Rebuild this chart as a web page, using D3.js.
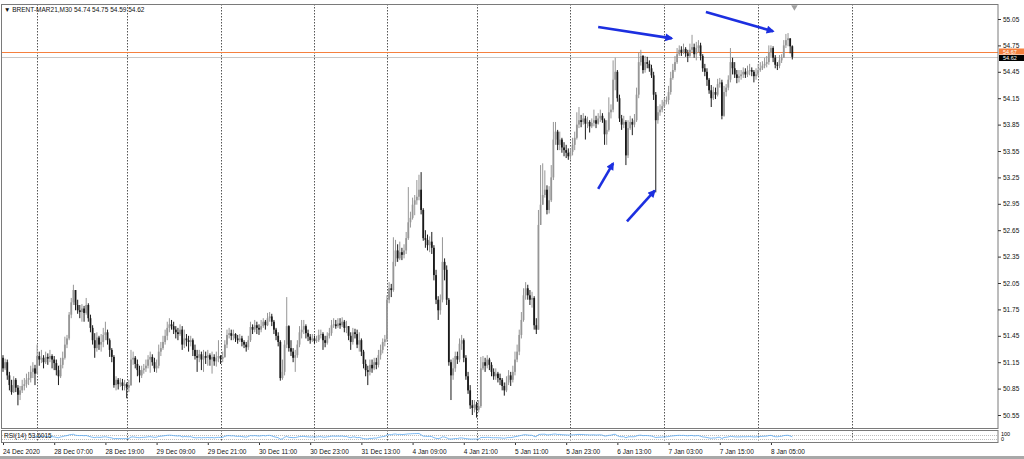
<!DOCTYPE html>
<html lang="en">
<head>
<meta charset="UTF-8">
<title>BRENT-MAR21,M30</title>
<style>
  body { margin: 0; background: #fff; }
  svg { display: block; font-family: "Liberation Sans", Arial, sans-serif; }
  .axis text { font-size: 6.5px; fill: #111; }
  .axis line { stroke: #333; }
  .axis path { display: none; }
  .grid line { stroke: #555; stroke-dasharray: 1.5 1.5; }
</style>
<script src="https://d3js.org/d3.v7.min.js"></script>
</head>
<body>
<script>
// ---- chart values ----
const titleText = "\u25BC BRENT-MAR21,M30  54.74 54.75 54.59 54.62";
const rsiText = "RSI(14) 53.6015";
const firstOpen = 51.20;

const close = [
  51.08, 51.15, 51.00, 50.89, 50.81, 50.95, 50.86, 50.78, 50.83, 50.88,
  50.90, 50.95, 50.97, 51.04, 51.08, 51.02, 51.22, 51.18, 51.20, 51.15,
  51.21, 51.19, 51.22, 51.18, 51.14, 51.06, 50.99, 51.12, 51.20, 51.35,
  51.42, 51.69, 51.83, 51.97, 51.80, 51.74, 51.72, 51.76, 51.71, 51.80,
  51.65, 51.54, 51.40, 51.31, 51.43, 51.35, 51.38, 51.46, 51.49, 51.40,
  51.29, 51.21, 50.89, 50.95, 50.90, 50.92, 50.88, 50.90, 50.86, 50.89,
  51.18, 51.20, 51.13, 51.06, 51.00, 51.06, 51.08, 51.11, 51.18, 51.21,
  51.15, 51.08, 51.11, 51.27, 51.31, 51.38, 51.45, 51.54, 51.58, 51.56,
  51.52, 51.49, 51.47, 51.52, 51.35, 51.42, 51.40, 51.38, 51.40, 51.29,
  51.22, 51.20, 51.24, 51.18, 51.22, 51.20, 51.23, 51.18, 51.21, 51.16,
  51.20, 51.22, 51.19, 51.21, 51.35, 51.46, 51.48, 51.45, 51.47, 51.42,
  51.40, 51.42, 51.38, 51.35, 51.32, 51.40, 51.55, 51.52, 51.57, 51.54,
  51.52, 51.56, 51.61, 51.57, 51.65, 51.67, 51.61, 51.52, 51.45, 51.38,
  50.97, 51.04, 51.35, 51.56, 51.31, 51.27, 51.20, 51.23, 51.35, 51.49,
  51.52, 51.56, 51.48, 51.44, 51.40, 51.42, 51.39, 51.40, 51.46, 51.47,
  51.40, 51.37, 51.45, 51.48, 51.57, 51.58, 51.56, 51.59, 51.57, 51.61,
  51.54, 51.56, 51.45, 51.38, 51.49, 51.47, 51.35, 51.40, 51.27, 51.13,
  51.06, 51.04, 51.12, 51.08, 51.15, 51.12, 51.23, 51.29, 51.38, 51.41,
  51.86, 51.99, 51.97, 52.29, 52.42, 52.33, 52.40, 52.37, 52.42, 52.56,
  52.74, 52.79, 52.94, 52.99, 53.03, 53.11, 52.88, 52.56, 52.54, 52.48,
  52.52, 52.45, 52.14, 51.86, 51.74, 51.86, 52.29, 52.20, 51.86, 51.15,
  51.00, 51.08, 51.22, 51.18, 51.36, 51.40, 51.20, 50.99, 50.83, 50.66,
  50.63, 50.67, 50.61, 50.65, 51.08, 51.15, 51.11, 51.18, 51.12, 51.04,
  50.99, 51.02, 50.97, 50.95, 50.88, 50.83, 50.92, 51.00, 50.95, 51.04,
  51.18, 51.27, 51.46, 51.63, 51.91, 51.99, 51.91, 51.86, 51.88, 51.57,
  51.52, 52.71, 52.94, 53.05, 53.11, 52.88, 52.99, 53.25, 53.68, 53.77,
  53.62, 53.68, 53.59, 53.56, 53.53, 53.49, 53.54, 53.62, 53.70, 53.85,
  53.90, 53.88, 53.92, 53.86, 53.88, 53.83, 53.87, 53.90, 53.86, 53.92,
  53.95, 53.90, 53.74, 53.79, 53.99, 54.02, 54.36, 54.45, 54.15, 53.92,
  53.85, 53.88, 53.50, 53.81, 53.88, 53.85, 53.90, 54.19, 54.56, 54.63,
  54.47, 54.56, 54.54, 54.49, 54.41, 54.19, 53.90, 53.99, 54.02, 54.06,
  54.11, 54.13, 54.22, 54.38, 54.47, 54.56, 54.65, 54.70, 54.67, 54.71,
  54.66, 54.63, 54.70, 54.73, 54.65, 54.72, 54.75, 54.63, 54.49, 54.45,
  54.36, 54.24, 54.15, 54.22, 54.19, 54.31, 54.33, 53.95, 54.22, 54.27,
  54.36, 54.56, 54.49, 54.42, 54.38, 54.40, 54.42, 54.45, 54.42, 54.46,
  54.47, 54.45, 54.40, 54.42, 54.47, 54.49, 54.52, 54.54, 54.56, 54.67,
  54.72, 54.61, 54.53, 54.52, 54.58, 54.61, 54.75, 54.81, 54.83, 54.74,
  54.62
];

const high = [
  51.23, 51.19, 51.18, 51.04, 50.95, 50.99, 50.97, 50.89, 50.88, 50.95,
  50.97, 51.02, 51.04, 51.11, 51.15, 51.12, 51.35, 51.27, 51.29, 51.23,
  51.27, 51.25, 51.29, 51.24, 51.22, 51.18, 51.11, 51.20, 51.27, 51.44,
  51.46, 51.72, 51.88, 52.03, 51.95, 51.86, 51.80, 51.81, 51.79, 51.88,
  51.82, 51.69, 51.57, 51.48, 51.49, 51.45, 51.47, 51.54, 51.61, 51.52,
  51.42, 51.31, 51.23, 50.99, 50.97, 50.97, 50.96, 50.95, 50.92, 50.95,
  51.29, 51.27, 51.22, 51.18, 51.11, 51.11, 51.13, 51.18, 51.23, 51.27,
  51.24, 51.20, 51.18, 51.35, 51.38, 51.45, 51.52, 51.61, 51.65, 51.63,
  51.61, 51.56, 51.54, 51.58, 51.56, 51.52, 51.47, 51.45, 51.45, 51.42,
  51.35, 51.29, 51.29, 51.27, 51.29, 51.27, 51.29, 51.25, 51.27, 51.24,
  51.27, 51.40, 51.23, 51.27, 51.40, 51.52, 51.54, 51.52, 51.52, 51.48,
  51.46, 51.47, 51.45, 51.40, 51.38, 51.45, 51.61, 51.58, 51.63, 51.61,
  51.58, 51.63, 51.65, 51.63, 51.71, 51.72, 51.70, 51.63, 51.54, 51.49,
  51.40, 51.18, 51.40, 51.89, 51.57, 51.40, 51.31, 51.29, 51.40, 51.56,
  51.63, 51.63, 51.58, 51.52, 51.47, 51.47, 51.45, 51.45, 51.52, 51.52,
  51.49, 51.45, 51.49, 51.54, 51.63, 51.65, 51.63, 51.65, 51.65, 51.66,
  51.63, 51.62, 51.56, 51.49, 51.54, 51.53, 51.52, 51.49, 51.42, 51.29,
  51.18, 51.11, 51.18, 51.18, 51.20, 51.20, 51.29, 51.35, 51.42, 51.46,
  51.91, 52.06, 52.04, 52.57, 52.54, 52.49, 52.52, 52.45, 52.49, 52.63,
  53.14, 52.86, 53.02, 53.05, 53.22, 53.28, 53.31, 52.90, 52.65, 52.60,
  52.58, 52.63, 52.48, 52.20, 51.90, 51.92, 52.57, 52.33, 52.25, 51.88,
  51.18, 51.20, 51.27, 51.27, 51.42, 51.46, 51.42, 51.23, 51.04, 50.89,
  50.72, 50.72, 50.70, 50.72, 51.21, 51.22, 51.20, 51.23, 51.20, 51.15,
  51.08, 51.08, 51.04, 51.02, 50.97, 50.92, 50.99, 51.06, 51.04, 51.11,
  51.27, 51.35, 51.52, 51.72, 51.99, 52.06, 52.03, 51.97, 51.95, 51.90,
  51.65, 52.88, 53.39, 53.41, 53.33, 53.16, 53.15, 53.39, 53.88, 53.88,
  53.79, 53.77, 53.70, 53.65, 53.62, 53.58, 53.58, 53.70, 53.77, 53.99,
  54.05, 53.96, 53.98, 53.95, 53.94, 53.90, 53.92, 54.02, 53.95, 53.98,
  54.02, 53.98, 53.92, 53.90, 54.16, 54.08, 54.58, 54.61, 54.47, 54.19,
  53.96, 53.95, 53.90, 53.90, 53.95, 53.92, 53.97, 54.27, 54.67, 54.70,
  54.64, 54.63, 54.62, 54.58, 54.53, 54.45, 54.22, 54.06, 54.08, 54.13,
  54.15, 54.17, 54.29, 54.45, 54.54, 54.63, 54.72, 54.75, 54.74, 54.77,
  54.73, 54.70, 54.77, 54.87, 54.77, 54.79, 54.81, 54.78, 54.65, 54.54,
  54.49, 54.38, 54.30, 54.28, 54.27, 54.37, 54.38, 54.36, 54.29, 54.31,
  54.41, 54.72, 54.61, 54.56, 54.47, 54.47, 54.47, 54.50, 54.49, 54.52,
  54.54, 54.50, 54.47, 54.49, 54.54, 54.56, 54.57, 54.61, 54.63, 54.75,
  54.75, 54.74, 54.64, 54.56, 54.64, 54.65, 54.81, 54.88, 54.89, 54.83,
  54.75
];

const low = [
  51.04, 51.06, 50.95, 50.83, 50.78, 50.80, 50.81, 50.66, 50.72, 50.80,
  50.83, 50.86, 50.89, 50.92, 50.97, 50.89, 51.04, 51.11, 51.14, 51.08,
  51.13, 51.12, 51.15, 51.08, 51.06, 51.00, 50.89, 50.97, 51.08, 51.18,
  51.31, 51.40, 51.65, 51.80, 51.74, 51.70, 51.65, 51.61, 51.61, 51.69,
  51.61, 51.49, 51.35, 51.20, 51.27, 51.29, 51.27, 51.32, 51.40, 51.35,
  51.21, 51.15, 50.86, 50.83, 50.84, 50.87, 50.83, 50.83, 50.74, 50.81,
  50.88, 51.12, 51.08, 50.99, 50.92, 50.97, 51.02, 51.04, 51.08, 51.03,
  51.11, 51.04, 51.03, 51.08, 51.22, 51.29, 51.35, 51.40, 51.49, 51.52,
  51.47, 51.42, 51.40, 51.45, 51.29, 51.31, 51.33, 51.27, 51.33, 51.22,
  51.18, 51.04, 51.15, 51.06, 51.04, 51.13, 51.11, 51.11, 51.02, 51.11,
  51.10, 51.15, 51.13, 51.15, 51.20, 51.31, 51.42, 51.40, 51.40, 51.38,
  51.36, 51.38, 51.33, 51.31, 51.27, 51.29, 51.38, 51.47, 51.49, 51.47,
  51.46, 51.49, 51.54, 51.52, 51.56, 51.61, 51.56, 51.47, 51.40, 51.33,
  50.94, 50.95, 51.00, 51.31, 51.27, 51.22, 51.15, 51.04, 51.20, 51.32,
  51.42, 51.47, 51.42, 51.39, 51.36, 51.38, 51.36, 51.37, 51.38, 51.42,
  51.29, 51.32, 51.35, 51.42, 51.45, 51.54, 51.53, 51.54, 51.53, 51.55,
  51.49, 51.48, 51.40, 51.29, 51.35, 51.42, 51.31, 51.27, 51.22, 51.08,
  50.99, 50.89, 51.00, 51.03, 51.06, 51.07, 51.09, 51.18, 51.25, 51.33,
  51.38, 51.82, 51.89, 51.95, 52.24, 52.29, 52.31, 52.31, 52.33, 52.38,
  52.54, 52.68, 52.77, 52.82, 52.94, 52.99, 52.83, 52.53, 52.45, 52.42,
  52.40, 52.38, 52.08, 51.81, 51.63, 51.69, 51.83, 52.08, 51.80, 51.11,
  50.72, 50.95, 51.04, 51.13, 51.15, 51.29, 51.15, 50.95, 50.79, 50.62,
  50.55, 50.58, 50.52, 50.58, 50.63, 51.06, 51.04, 51.08, 51.06, 50.99,
  50.95, 50.95, 50.92, 50.89, 50.83, 50.77, 50.81, 50.89, 50.88, 50.92,
  51.00, 51.15, 51.23, 51.42, 51.61, 51.86, 51.86, 51.80, 51.77, 51.52,
  51.47, 51.52, 52.74, 52.94, 53.02, 52.83, 52.84, 52.97, 53.22, 53.62,
  53.56, 53.56, 53.53, 53.49, 53.47, 53.45, 53.45, 53.50, 53.56, 53.68,
  53.81, 53.82, 53.85, 53.68, 53.81, 53.76, 53.81, 53.83, 53.81, 53.85,
  53.88, 53.87, 53.62, 53.62, 53.77, 53.92, 53.99, 54.24, 54.11, 53.88,
  53.79, 53.81, 53.39, 53.47, 53.79, 53.73, 53.82, 53.88, 54.15, 54.52,
  54.43, 54.44, 54.49, 54.45, 54.38, 54.13, 53.08, 53.86, 53.95, 53.99,
  54.04, 54.08, 54.08, 54.19, 54.36, 54.45, 54.54, 54.63, 54.63, 54.65,
  54.62, 54.56, 54.61, 54.67, 54.61, 54.58, 54.67, 54.58, 54.45, 54.40,
  54.29, 54.20, 54.05, 54.13, 54.14, 54.17, 54.27, 53.91, 53.94, 54.17,
  54.24, 54.33, 54.42, 54.38, 54.32, 54.33, 54.36, 54.38, 54.38, 54.39,
  54.41, 54.40, 54.33, 54.36, 54.40, 54.45, 54.47, 54.49, 54.50, 54.53,
  54.62, 54.56, 54.49, 54.47, 54.49, 54.55, 54.61, 54.72, 54.74, 54.66,
  54.59
];

// price scale labels (right side)
const priceTicks = [55.05, 54.75, 54.45, 54.15, 53.85, 53.55, 53.25, 52.95,
                    52.65, 52.35, 52.05, 51.75, 51.45, 51.15, 50.85, 50.55];

// time scale labels, one every 24 bars
const timeLabels = ["24 Dec 2020", "28 Dec 07:00", "28 Dec 19:00", "29 Dec 09:00",
                    "29 Dec 21:00", "30 Dec 11:00", "30 Dec 23:00", "31 Dec 13:00",
                    "4 Jan 09:00", "4 Jan 21:00", "5 Jan 11:00", "5 Jan 23:00",
                    "6 Jan 13:00", "7 Jan 03:00", "7 Jan 15:00", "8 Jan 05:00"];
const labelStep = 24;

// bars where the dotted vertical grid lines sit
const gridBars = [16, 58, 102, 146, 180, 222, 266, 310, 354, 398];

const askPrice = 54.67;
const bidPrice = 54.62;

// hand-drawn blue arrows: [bar from, price from, bar to, price to]
const arrows = [
  [279, 54.96, 313.5, 54.83],
  [329.5, 55.13, 361, 54.91],
  [279, 53.12, 286, 53.41],
  [292.5, 52.75, 305.5, 53.10]
];

// ---- drawing ----
function grafico() {
  const W = 1024, H = 459;
  const paneRight = 998, paneTop = 4, paneBottom = 428;
  const rsiTop = 430, rsiBottom = 442;

  const svg = d3.select("body").append("svg")
      .attr("width", W)
      .attr("height", H);

  const x = d3.scaleLinear().domain([0, 370]).range([3, 792.3]);
  const y = d3.scaleLinear().domain([50.55, 55.05]).range([415, 19]);
  const yr = d3.scaleLinear().domain([0, 100]).range([rsiBottom, rsiTop + 2]);

  // clip for main pane
  svg.append("clipPath").attr("id", "clipMain")
    .append("rect").attr("x", 1).attr("y", paneTop).attr("width", paneRight - 1).attr("height", paneBottom - paneTop);

  // vertical dotted grid (main pane + rsi pane)
  const grid = svg.append("g").attr("class", "grid");
  grid.selectAll("line.m").data(gridBars).enter().append("line")
      .attr("x1", d => Math.round(x(d)) + 0.5).attr("x2", d => Math.round(x(d)) + 0.5)
      .attr("y1", paneTop).attr("y2", paneBottom);
  grid.selectAll("line.r").data(gridBars).enter().append("line")
      .attr("x1", d => Math.round(x(d)) + 0.5).attr("x2", d => Math.round(x(d)) + 0.5)
      .attr("y1", rsiTop).attr("y2", rsiBottom);

  // bid / ask lines
  svg.append("line")
      .attr("x1", 1).attr("x2", paneRight)
      .attr("y1", Math.round(y(bidPrice)) + 0.5).attr("y2", Math.round(y(bidPrice)) + 0.5)
      .attr("stroke", "#c8c8c8").attr("stroke-width", 1);
  svg.append("line")
      .attr("x1", 1).attr("x2", paneRight)
      .attr("y1", Math.round(y(askPrice)) + 0.5).attr("y2", Math.round(y(askPrice)) + 0.5)
      .attr("stroke", "#f5803e").attr("stroke-width", 1);

  // candles
  const bars = close.map((c, i) => ({
    i: i,
    o: i ? close[i - 1] : firstOpen,
    h: high[i], l: low[i], c: c
  }));
  const g = svg.append("g").attr("clip-path", "url(#clipMain)");
  const colour = d => d.c >= d.o ? "#969696" : "#1a1a1a";

  g.selectAll("line.wick").data(bars).enter().append("line")
      .attr("class", "wick")
      .attr("x1", d => x(d.i)).attr("x2", d => x(d.i))
      .attr("y1", d => y(Math.max(d.h, d.o, d.c)))
      .attr("y2", d => y(Math.min(d.l, d.o, d.c)))
      .attr("stroke", colour).attr("stroke-width", 1);

  g.selectAll("rect.body").data(bars).enter().append("rect")
      .attr("class", "body")
      .attr("x", d => x(d.i) - 0.9).attr("width", 1.8)
      .attr("y", d => y(Math.max(d.o, d.c)))
      .attr("height", d => Math.max(0.8, Math.abs(y(d.o) - y(d.c))))
      .attr("fill", colour);

  // arrows
  const defs = svg.append("defs");
  defs.append("marker").attr("id", "head")
      .attr("viewBox", "0 0 10 10").attr("refX", 8).attr("refY", 5)
      .attr("markerWidth", 10).attr("markerHeight", 8)
      .attr("markerUnits", "userSpaceOnUse").attr("orient", "auto")
    .append("path").attr("d", "M0,0 L10,5 L0,10 z").attr("fill", "#1c2fe0");
  svg.selectAll("line.arrow").data(arrows).enter().append("line")
      .attr("x1", d => x(d[0])).attr("y1", d => y(d[1]))
      .attr("x2", d => x(d[2])).attr("y2", d => y(d[3]))
      .attr("stroke", "#1c2fe0").attr("stroke-width", 2.6)
      .attr("marker-end", "url(#head)");

  // chart shift marker
  svg.append("path")
      .attr("d", d3.symbol(d3.symbolTriangle, 18)())
      .attr("transform", "translate(" + x(371) + "," + (paneTop + 3) + ") rotate(180)")
      .attr("fill", "#a0a0a0");

  // pane frames
  svg.append("rect").attr("x", 1.5).attr("y", paneTop + 0.5)
      .attr("width", paneRight - 1.5).attr("height", paneBottom - paneTop)
      .attr("fill", "none").attr("stroke", "#7a7a7a");
  svg.append("rect").attr("x", 1.5).attr("y", rsiTop + 0.5)
      .attr("width", paneRight - 1.5).attr("height", rsiBottom - rsiTop)
      .attr("fill", "none").attr("stroke", "#7a7a7a");

  // rsi levels
  svg.selectAll("line.lvl").data([70, 30]).enter().append("line")
      .attr("x1", 2).attr("x2", paneRight)
      .attr("y1", d => Math.round(yr(d)) + 0.5).attr("y2", d => Math.round(yr(d)) + 0.5)
      .attr("stroke", "#bdbdbd").attr("stroke-dasharray", "1 1");

  // rsi(14) computed from the closes
  const rsi = [];
  let ag = 0, al = 0;
  for (let i = 1; i < close.length; i++) {
    const d = close[i] - close[i - 1];
    const up = Math.max(d, 0), dn = Math.max(-d, 0);
    if (i <= 14) { ag += up / 14; al += dn / 14; }
    else { ag = (ag * 13 + up) / 14; al = (al * 13 + dn) / 14; }
    if (i >= 14) rsi.push([i, al === 0 ? 100 : 100 - 100 / (1 + ag / al)]);
  }
  svg.append("path").datum(rsi)
      .attr("d", d3.line().x(d => x(d[0])).y(d => yr(d[1])))
      .attr("fill", "none").attr("stroke", "#5aa8f0").attr("stroke-width", 0.8);

  // price axis
  svg.append("g").attr("class", "axis")
      .attr("transform", "translate(" + paneRight + ",0)")
      .call(d3.axisRight(y).tickValues(priceTicks).tickFormat(d3.format(".2f")).tickSize(3).tickPadding(2));

  // ask / bid boxes (ask box drawn a little lower so it does not hide 54.75)
  [[askPrice, "#f5803e", 48.5], [bidPrice, "#000", 55]].forEach(function (p) {
    svg.append("rect").attr("x", 999).attr("y", p[2]).attr("width", 25).attr("height", 6).attr("fill", p[1]);
    svg.append("text").attr("x", 1003).attr("y", p[2] + 5)
        .attr("font-size", "5.5px").attr("fill", "#fff").text(p[0].toFixed(2));
  });

  // rsi scale labels
  svg.append("text").attr("x", 1001).attr("y", 436).attr("font-size", "5.5px").text("100");
  svg.append("text").attr("x", 1001).attr("y", 441).attr("font-size", "5.5px").text("0");

  // time axis
  const tIdx = timeLabels.map((t, k) => k * labelStep);
  const tAxis = svg.append("g").attr("class", "axis")
      .attr("transform", "translate(0," + (rsiBottom + 1) + ")")
      .call(d3.axisBottom(x).tickValues(tIdx).tickFormat((d, k) => timeLabels[k]).tickSize(2).tickPadding(4));
  tAxis.selectAll("text").attr("text-anchor", "start").attr("dx", "-0.5");

  // titles
  svg.append("text").attr("x", 4).attr("y", 12).attr("font-size", "6.5px").attr("fill", "#111").text(titleText);
  svg.append("text").attr("x", 4).attr("y", 438).attr("font-size", "6.5px").attr("fill", "#111").text(rsiText);

  // bottom window strip
  svg.append("rect").attr("x", 0).attr("y", 456).attr("width", W).attr("height", 3).attr("fill", "#a8a8a8");
}
grafico();
</script>
</body>
</html>
